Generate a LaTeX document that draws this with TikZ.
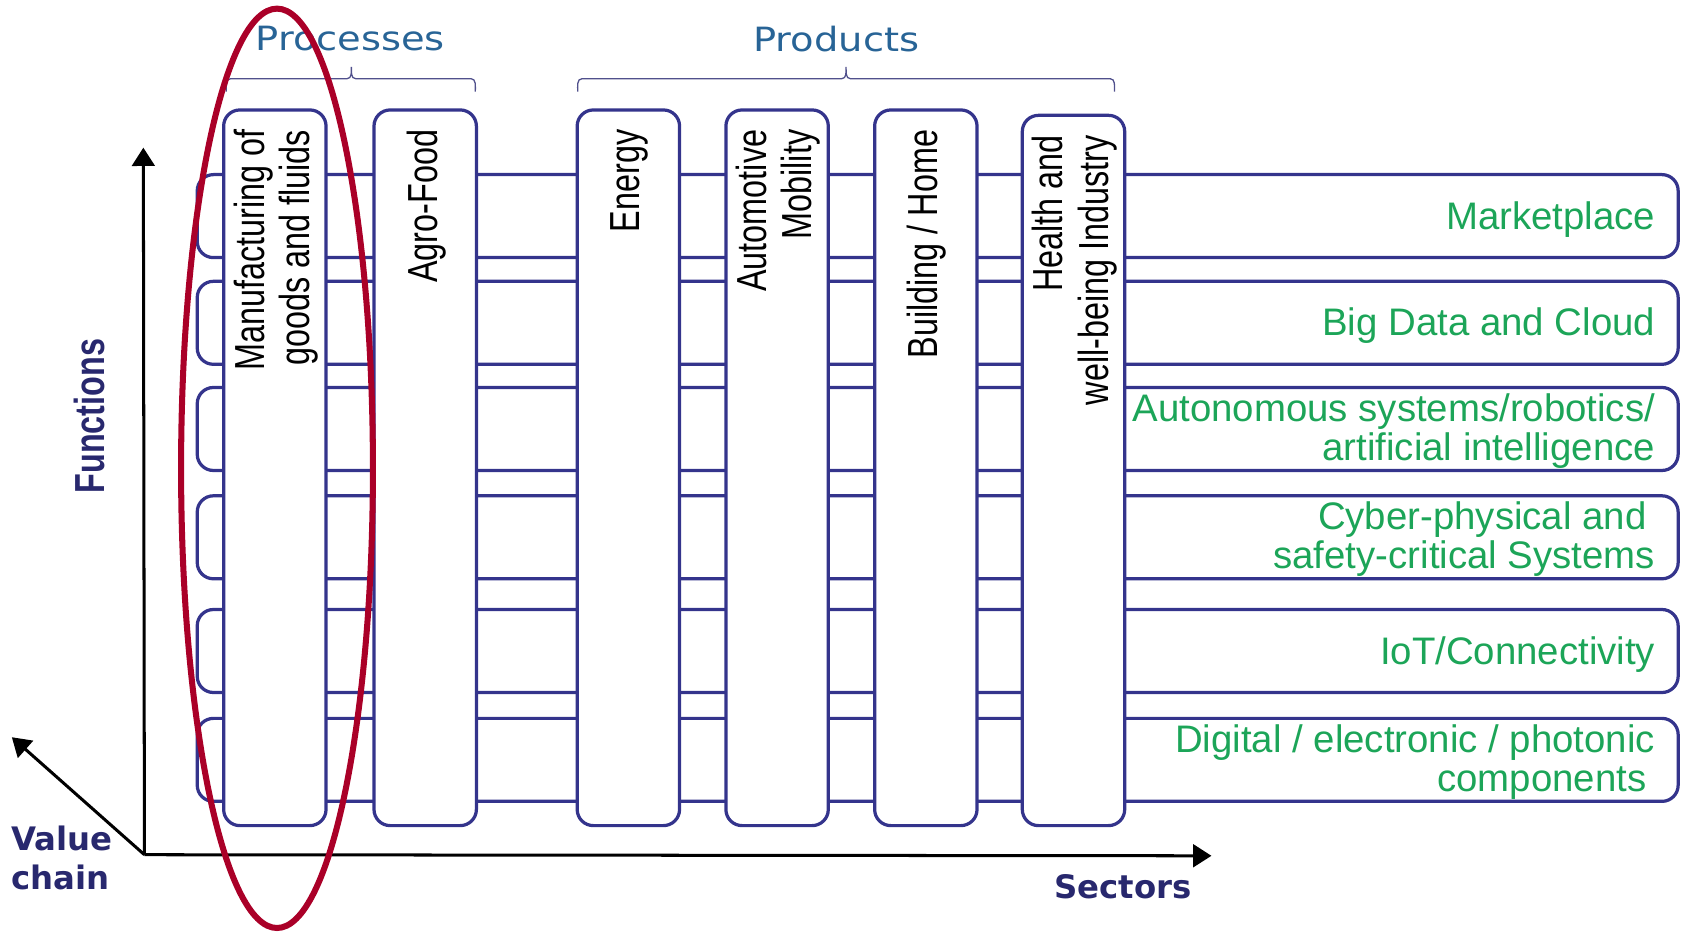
\documentclass[tikz,border=0pt]{standalone}
\usepackage{fontspec}
\setmainfont{Liberation Sans}
\newfontfamily\colfont[FakeStretch=0.77]{Liberation Sans}
\newfontfamily\headfont[FakeStretch=1.15]{DejaVu Sans}
\newfontfamily\axisfont{DejaVu Sans}
\usetikzlibrary{arrows.meta}
\definecolor{boxblue}{RGB}{52,52,140}
\definecolor{fgreen}{RGB}{28,165,88}
\definecolor{headblue}{RGB}{40,100,150}
\definecolor{navy}{RGB}{40,40,110}
\definecolor{bracecol}{RGB}{80,80,140}
\definecolor{ringred}{RGB}{170,0,40}
\tikzset{
  rowbox/.style={draw=boxblue, line width=1.5pt, rounded corners=7.5pt, minimum width=687pt, minimum height=38.5pt, inner sep=0pt},
  colbox/.style={draw=boxblue, fill=white, line width=1.5pt, rounded corners=7.5pt, minimum width=47.5pt, inner sep=0pt},
  rowtext/.style={anchor=east, align=right, inner sep=0pt, text=fgreen, font=\fontsize{17.8}{18}\selectfont},
  coltext/.style={anchor=east, rotate=90, align=right, inner sep=0pt, text=black, font=\colfont\fontsize{19.5}{21}\selectfont},
  headtext/.style={inner sep=0pt, text=headblue, font=\headfont\fontsize{15.5}{18}\selectfont},
  axislabel/.style={inner sep=0pt, text=navy, font=\axisfont\bfseries\fontsize{15}{18}\selectfont},
  axisline/.style={draw=black, line width=1.4pt, -{Triangle[length=8.5pt,width=10.5pt]}},
  bracepath/.style={draw=bracecol, line width=0.6pt},
  ring/.style={draw=ringred, line width=2.8pt}
}
\begin{document}
\begin{tikzpicture}[x=0.5pt,y=-0.5pt]
\useasboundingbox (0,0) rectangle (1568,869);
% rows (functions)
\node[rowbox] (r1) at (870,200.5) {};
\node[rowbox] (r2) at (870,299.5) {};
\node[rowbox] (r3) at (870,398) {};
\node[rowbox] (r4) at (870,498.5) {};
\node[rowbox] (r5) at (870,604) {};
\node[rowbox] (r6) at (870,705) {};
\node[rowtext] (t1) at (1536,203.5) {Marketplace};
\node[rowtext] (t2) at (1536,302.5) {Big Data and Cloud};
\node[rowtext] (t3) at (1536,400) {Autonomous systems/robotics/\\artificial intelligence};
\node[rowtext] (t4) at (1536,500.5) {Cyber-physical and\hspace*{4pt}\\safety-critical Systems};
\node[rowtext] (t5) at (1536,607) {IoT/Connectivity};
\node[rowtext] (t6) at (1536,707) {Digital / electronic / photonic\\components\hspace*{4pt}};
% columns (sectors)
\node[colbox, minimum height=332pt] (c1) at (255,434) {};
\node[colbox, minimum height=332pt] (c2) at (394.5,434) {};
\node[colbox, minimum height=332pt] (c3) at (583,434) {};
\node[colbox, minimum height=332pt] (c4) at (721,434) {};
\node[colbox, minimum height=332pt] (c5) at (859,434) {};
\node[colbox, minimum height=329.5pt] (c6) at (996,436.5) {};
\node[coltext] (s1) at (256,120) {Manufacturing of\\goods and fluids};
\node[coltext] (s2) at (395.5,120) {Agro-Food};
\node[coltext] (s3) at (584,120) {Energy};
\node[coltext] (s4) at (722,120) {Automotive\\Mobility};
\node[coltext] (s5) at (860,120) {Building / Home};
\node[coltext] (s6) at (997,125) {Health and\\well-being Industry};
% braces
\draw[bracepath] (210,85) to[out=90,in=180] (214,73) -- (322,73) to[out=0,in=-90] (326,62) to[out=-90,in=180] (330,73) -- (437,73) to[out=0,in=90] (441,85);
\draw[bracepath] (536,85) to[out=90,in=180] (540,73) -- (781,73) to[out=0,in=-90] (785,62) to[out=-90,in=180] (789,73) -- (1030,73) to[out=0,in=90] (1034,85);
\node[headtext] (hp) at (325,36) {Processes};
\node[headtext] (hq) at (776,36) {Products};
% axes
\coordinate (O) at (134,793);
\coordinate (ytip) at (133,137);
\coordinate (xtip) at (1124,794);
\coordinate (ztip) at (11,684);
\draw[axisline] (O) -- (ytip);
\draw[axisline] (O) -- (xtip);
\draw[axisline] (O) -- (ztip);
\node[inner sep=0pt, rotate=90, text=navy, font=\colfont\bfseries\fontsize{19.5}{21}\selectfont] (fl) at (83,386) {Functions};
\node[axislabel, anchor=west, align=left] (vl) at (10,796) {Value\\chain};
\node[axislabel] (sl) at (1042,823) {Sectors};
% highlight ring
\draw[ring] (257,434.5) ellipse [x radius=44.5pt, y radius=213.25pt];
\end{tikzpicture}
\end{document}
